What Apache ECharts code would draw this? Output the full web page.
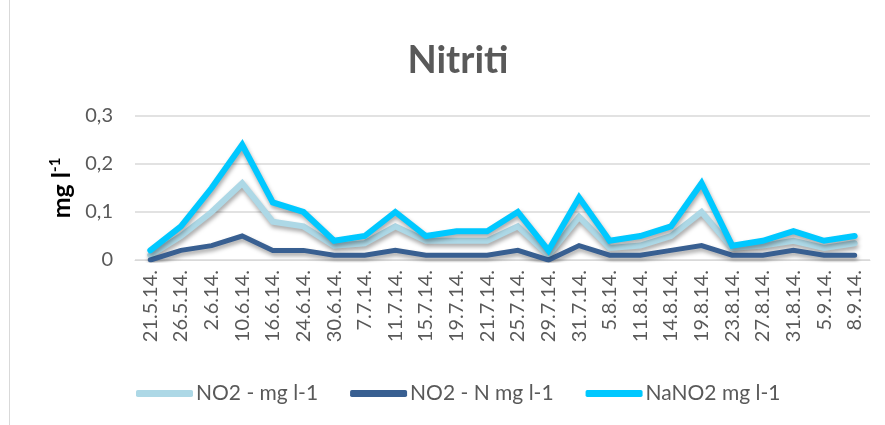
<!DOCTYPE html>
<html><head><meta charset="utf-8">
<script src="https://cdn.jsdelivr.net/npm/echarts@6/dist/echarts.min.js"></script>
<style>html,body{margin:0;padding:0;background:#fff}#c{width:885px;height:425px;position:relative}#b{position:absolute;left:9px;top:0;width:1px;height:425px;background:#d9d9d9}</style>
</head><body><div id="c"></div><div id="b"></div>
<script>
const categories = ['21.5.14.','26.5.14.','2.6.14.','10.6.14.','16.6.14.','24.6.14.','30.6.14.','7.7.14.','11.7.14.','15.7.14.','19.7.14.','21.7.14.','25.7.14.','29.7.14.','31.7.14.','5.8.14.','11.8.14.','14.8.14.','19.8.14.','23.8.14.','27.8.14.','31.8.14.','5.9.14.','8.9.14.'];
const no2 = [0.01,0.05,0.10,0.16,0.08,0.07,0.03,0.035,0.07,0.04,0.04,0.04,0.07,0.01,0.09,0.025,0.03,0.05,0.10,0.025,0.03,0.04,0.025,0.035];
const no2n = [0.00,0.02,0.03,0.05,0.02,0.02,0.01,0.01,0.02,0.01,0.01,0.01,0.02,0.00,0.03,0.01,0.01,0.02,0.03,0.01,0.01,0.02,0.01,0.01];
const nano2 = [0.02,0.07,0.15,0.24,0.12,0.10,0.04,0.05,0.10,0.05,0.06,0.06,0.10,0.02,0.13,0.04,0.05,0.07,0.16,0.03,0.04,0.06,0.04,0.05];
const seriesNames = ['NO2 - mg l-1','NO2 - N mg l-1','NaNO2 mg l-1'];
const yTicks = [0,0.1,0.2,0.3];
const colors = ['#ADD8E6','#385F91','#00C8FF'];
const F = 'Lato, "Open Sans", sans-serif';
const chart = echarts.init(document.getElementById('c'));
const mk = (name, data, color, w) => ({
  name, type:'line', data, symbol:'none', smooth:false,
  lineStyle:{color, width:w, cap:'round', join:'miter', shadowColor:'rgba(0,0,0,0.35)', shadowBlur:4, shadowOffsetX:1, shadowOffsetY:3},
  itemStyle:{color}
});
chart.setOption({
  animation:false,
  title:{text:'Nitriti', left:453, top:37, textAlign:'center', textStyle:{fontFamily:F, fontSize:38, fontWeight:'bold', color:'#595959'}},
  grid:{left:135, right:15, top:116, bottom:165, containLabel:false},
  legend:{bottom:16, left:131, itemWidth:57, itemHeight:7, itemGap:32, icon:'roundRect',
    textStyle:{fontFamily:F, fontSize:21, color:'#595959', padding:[0,0,0,-2]}, data:seriesNames},
  xAxis:{type:'category', data:categories, boundaryGap:true,
    axisLine:{lineStyle:{color:'#d9d9d9', width:1}}, axisTick:{show:false},
    axisLabel:{rotate:90, interval:0, fontFamily:F, fontSize:20, color:'#595959', margin:10}},
  yAxis:{type:'value', min:yTicks[0], max:yTicks[yTicks.length-1], interval:0.1,
    name:'{a|mg l}{b|-1}', nameLocation:'middle', nameGap:60, nameRotate:90,
    nameTextStyle:{rich:{a:{fontFamily:F, fontSize:25, fontWeight:'bold', color:'#000'}, b:{fontFamily:F, fontSize:15, fontWeight:'bold', color:'#000', verticalAlign:'top', padding:[0,0,12,0]}}},
    axisLabel:{fontFamily:F, fontSize:20, color:'#595959', margin:22, formatter:v=>String(Math.round(v*10)/10).replace('.',',')},
    axisLine:{show:false}, axisTick:{show:false},
    splitLine:{lineStyle:{color:'#d9d9d9', width:1.5}}},
  series:[mk(seriesNames[0], no2, colors[0], 6), mk(seriesNames[1], no2n, colors[1], 5), mk(seriesNames[2], nano2, colors[2], 6)]
});
</script></body></html>
